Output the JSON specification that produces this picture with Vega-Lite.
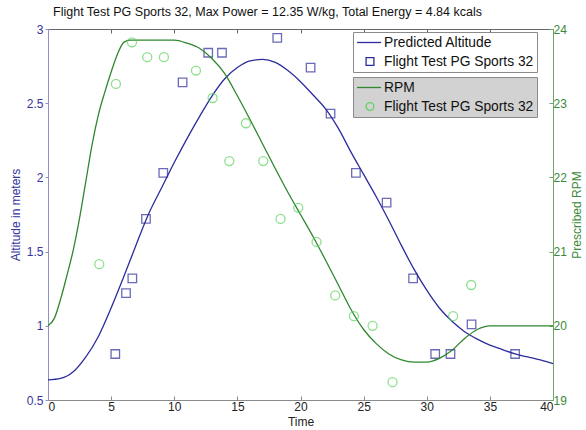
{
  "$schema": "https://vega.github.io/schema/vega-lite/v6.json",
  "width": 505,
  "height": 371,
  "autosize": "none",
  "padding": {"left": 48, "top": 29, "right": 33, "bottom": 30},
  "config": {
    "font": "Liberation Sans",
    "view": {"stroke": null},
    "axis": {"grid": false, "labelFont": "Liberation Sans", "titleFont": "Liberation Sans", "labelFontSize": 12, "titleFontSize": 12, "titleFontWeight": "normal"},
    "legend": {"labelFont": "Liberation Sans", "labelFontSize": 13.8, "labelColor": "#111"}
  },
  "title": {"text": "Flight Test PG Sports 32, Max Power = 12.35 W/kg, Total Energy = 4.84 kcals", "font": "Liberation Sans", "fontSize": 12.5, "fontWeight": "normal", "color": "#111", "anchor": "middle", "dx": -33, "offset": 5},
  "datasets": {
    "altCurve": [
      {"t": 0, "alt": 0.635}, {"t": 1, "alt": 0.645}, {"t": 2, "alt": 0.69}, {"t": 3, "alt": 0.79}, {"t": 4, "alt": 0.93},
      {"t": 5, "alt": 1.12}, {"t": 6, "alt": 1.33}, {"t": 7, "alt": 1.55}, {"t": 8, "alt": 1.76}, {"t": 9, "alt": 1.93},
      {"t": 10, "alt": 2.1}, {"t": 11, "alt": 2.26}, {"t": 12, "alt": 2.41}, {"t": 13, "alt": 2.55}, {"t": 14, "alt": 2.665},
      {"t": 15, "alt": 2.74}, {"t": 16, "alt": 2.785}, {"t": 17, "alt": 2.795}, {"t": 18, "alt": 2.775}, {"t": 19, "alt": 2.72},
      {"t": 20, "alt": 2.645}, {"t": 21, "alt": 2.555}, {"t": 22, "alt": 2.46}, {"t": 23, "alt": 2.33}, {"t": 24, "alt": 2.17},
      {"t": 25, "alt": 2.02}, {"t": 26, "alt": 1.87}, {"t": 27, "alt": 1.71}, {"t": 28, "alt": 1.54}, {"t": 29, "alt": 1.38},
      {"t": 30, "alt": 1.24}, {"t": 31, "alt": 1.12}, {"t": 32, "alt": 1.03}, {"t": 33, "alt": 0.96}, {"t": 34, "alt": 0.91},
      {"t": 35, "alt": 0.87}, {"t": 36, "alt": 0.84}, {"t": 37, "alt": 0.81}, {"t": 38, "alt": 0.79}, {"t": 39, "alt": 0.77},
      {"t": 40, "alt": 0.745}
    ],
    "altObs": [
      {"t": 5.33, "alt": 0.81}, {"t": 6.18, "alt": 1.22}, {"t": 6.68, "alt": 1.32}, {"t": 7.76, "alt": 1.72}, {"t": 9.13, "alt": 2.03},
      {"t": 10.66, "alt": 2.64}, {"t": 12.69, "alt": 2.84}, {"t": 13.78, "alt": 2.84}, {"t": 18.16, "alt": 2.94}, {"t": 20.8, "alt": 2.74},
      {"t": 22.38, "alt": 2.43}, {"t": 24.39, "alt": 2.03}, {"t": 26.82, "alt": 1.83}, {"t": 28.92, "alt": 1.32}, {"t": 30.67, "alt": 0.81},
      {"t": 31.88, "alt": 0.81}, {"t": 33.55, "alt": 1.01}, {"t": 37.0, "alt": 0.81}
    ],
    "rpmCurve": [
      {"t": 0, "rpm": 20.0}, {"t": 0.5, "rpm": 20.1}, {"t": 1, "rpm": 20.36}, {"t": 1.5, "rpm": 20.68}, {"t": 2, "rpm": 21.02},
      {"t": 2.5, "rpm": 21.45}, {"t": 3, "rpm": 21.95}, {"t": 3.5, "rpm": 22.45}, {"t": 4, "rpm": 22.85}, {"t": 4.5, "rpm": 23.15},
      {"t": 5, "rpm": 23.42}, {"t": 5.5, "rpm": 23.66}, {"t": 6, "rpm": 23.82}, {"t": 6.5, "rpm": 23.85}, {"t": 8, "rpm": 23.85},
      {"t": 10, "rpm": 23.85}, {"t": 11, "rpm": 23.81}, {"t": 12, "rpm": 23.74}, {"t": 13, "rpm": 23.6}, {"t": 14, "rpm": 23.4},
      {"t": 15, "rpm": 23.1}, {"t": 16, "rpm": 22.78}, {"t": 17, "rpm": 22.45}, {"t": 18, "rpm": 22.12}, {"t": 19, "rpm": 21.8},
      {"t": 20, "rpm": 21.5}, {"t": 21, "rpm": 21.2}, {"t": 22, "rpm": 20.88}, {"t": 23, "rpm": 20.55}, {"t": 24, "rpm": 20.22},
      {"t": 25, "rpm": 19.95}, {"t": 26, "rpm": 19.76}, {"t": 27, "rpm": 19.62}, {"t": 28, "rpm": 19.54}, {"t": 29, "rpm": 19.51},
      {"t": 30, "rpm": 19.51}, {"t": 31, "rpm": 19.56}, {"t": 32, "rpm": 19.67}, {"t": 33, "rpm": 19.83}, {"t": 34, "rpm": 19.95},
      {"t": 35, "rpm": 20.0}, {"t": 36, "rpm": 20.0}, {"t": 38, "rpm": 20.0}, {"t": 40, "rpm": 20.0}
    ],
    "rpmObs": [
      {"t": 4.06, "rpm": 20.83}, {"t": 5.38, "rpm": 23.26}, {"t": 6.65, "rpm": 23.82}, {"t": 7.86, "rpm": 23.62}, {"t": 9.18, "rpm": 23.62},
      {"t": 11.72, "rpm": 23.44}, {"t": 13.04, "rpm": 23.07}, {"t": 14.36, "rpm": 22.22}, {"t": 15.68, "rpm": 22.73}, {"t": 17.05, "rpm": 22.22},
      {"t": 18.42, "rpm": 21.44}, {"t": 19.82, "rpm": 21.59}, {"t": 21.27, "rpm": 21.13}, {"t": 22.75, "rpm": 20.41}, {"t": 24.23, "rpm": 20.13},
      {"t": 25.71, "rpm": 20.0}, {"t": 27.29, "rpm": 19.24}, {"t": 32.09, "rpm": 20.13}, {"t": 33.52, "rpm": 20.55}
    ]
  },
  "layer": [
    {
      "layer": [
        {
          "data": {"name": "altCurve"},
          "mark": {"type": "line", "strokeWidth": 1.3, "interpolate": "monotone"},
          "encoding": {
            "x": {"field": "t", "type": "quantitative", "scale": {"domain": [0, 40], "nice": false, "zero": false},
              "axis": {"orient": "bottom", "values": [0, 5, 10, 15, 20, 25, 30, 35, 40], "format": "~g", "title": "Time", "domainColor": "#8a8a8a", "tickColor": "#8a8a8a", "tickSize": -4, "labelColor": "#222", "titleColor": "#222", "labelPadding": 5, "titlePadding": 4}},
            "y": {"field": "alt", "type": "quantitative", "scale": {"domain": [0.5, 3], "nice": false, "zero": false},
              "axis": {"orient": "left", "values": [0.5, 1, 1.5, 2, 2.5, 3], "format": "~g", "title": "Altitude in meters", "domainColor": "#9090c8", "tickColor": "#9090c8", "tickSize": 3, "labelColor": "#34349c", "titleColor": "#34349c", "labelPadding": 2, "titlePadding": 4}},
            "color": {"datum": "Predicted Altitude", "type": "nominal",
              "scale": {"domain": ["Predicted Altitude", "Flight Test PG Sports 32"], "range": ["#2c2c9c", "#2c2c9c"]},
              "legend": {"title": null, "orient": "none", "legendX": 305, "legendY": 3, "fillColor": "white", "strokeColor": "#8a8a8a", "padding": 3, "rowPadding": 4, "symbolSize": 169, "labelOffset": 13,
                "encode": {"symbols": {"update": {
                  "shape": {"signal": "datum.value === 'Predicted Altitude' ? 'M-1,0H2.7' : 'M0.4,-0.6H1.6V0.6H0.4Z'"},
                  "fill": {"value": "transparent"}, "stroke": {"value": "#2c2c9c"}, "strokeWidth": {"value": 1.3}}}}}}
          }
        },
        {
          "data": {"name": "altObs"},
          "mark": {"type": "point", "shape": "square", "filled": false, "size": 72, "strokeWidth": 1.3},
          "encoding": {
            "x": {"field": "t", "type": "quantitative"},
            "y": {"field": "alt", "type": "quantitative"},
            "color": {"datum": "Flight Test PG Sports 32", "type": "nominal"}
          }
        }
      ]
    },
    {
      "layer": [
        {
          "data": {"name": "rpmCurve"},
          "mark": {"type": "line", "strokeWidth": 1.3, "interpolate": "monotone"},
          "encoding": {
            "x": {"field": "t", "type": "quantitative",
              "axis": {"orient": "top", "values": [0, 5, 10, 15, 20, 25, 30, 35, 40], "labels": false, "title": null, "domainColor": "#666", "tickColor": "#666", "tickSize": -4}},
            "y": {"field": "rpm", "type": "quantitative", "scale": {"domain": [19, 24], "nice": false, "zero": false},
              "axis": {"orient": "right", "values": [19, 20, 21, 22, 23, 24], "format": "~g", "title": "Prescribed RPM", "titleAngle": 270, "domainColor": "#6aa86a", "tickColor": "#6aa86a", "tickSize": -4, "labelColor": "#3a8a3a", "titleColor": "#3a8a3a", "labelPadding": 4, "titlePadding": 17}},
            "color": {"datum": "RPM", "type": "nominal",
              "scale": {"domain": ["RPM", "Flight Test PG Sports 32"], "range": ["#2f872f", "#5fd35f"]},
              "legend": {"title": null, "orient": "none", "legendX": 305, "legendY": 48, "fillColor": "#d2d2d2", "strokeColor": "#8a8a8a", "padding": 3, "rowPadding": 4, "symbolSize": 169, "labelOffset": 13,
                "encode": {"symbols": {"update": {
                  "shape": {"signal": "datum.value === 'RPM' ? 'M-1,0H2.7' : 'M0.4,0A0.6,0.6,0,1,1,1.6,0A0.6,0.6,0,1,1,0.4,0Z'"},
                  "fill": {"value": "transparent"}, "stroke": {"signal": "datum.value === 'RPM' ? '#2f872f' : '#5fd35f'"}, "strokeWidth": {"value": 1.3}}}}}}
          }
        },
        {
          "data": {"name": "rpmObs"},
          "mark": {"type": "point", "shape": "circle", "filled": false, "size": 81, "strokeWidth": 1.3},
          "encoding": {
            "x": {"field": "t", "type": "quantitative"},
            "y": {"field": "rpm", "type": "quantitative"},
            "color": {"datum": "Flight Test PG Sports 32", "type": "nominal"}
          }
        }
      ]
    }
  ],
  "resolve": {"scale": {"y": "independent", "color": "independent"}, "axis": {"x": "independent", "y": "independent"}, "legend": {"color": "independent"}}
}
